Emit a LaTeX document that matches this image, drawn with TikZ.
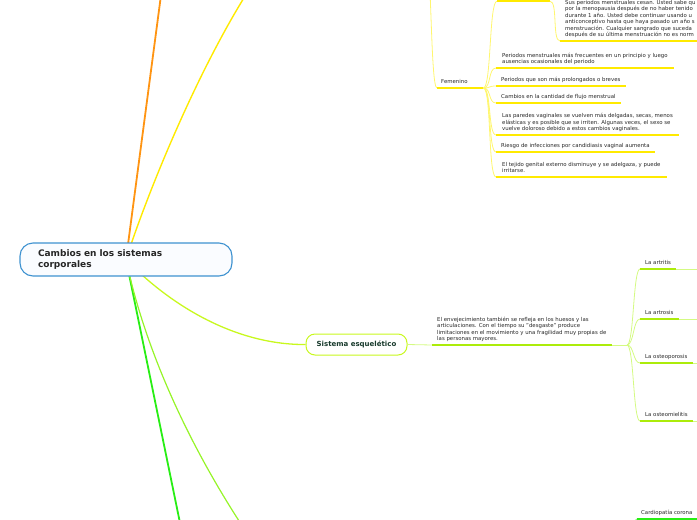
\documentclass[tikz,border=0pt]{standalone}
\usepackage{fontspec}
\setmainfont{DejaVu Sans}
\usepackage{tikz}
\usetikzlibrary{backgrounds}
\definecolor{rootblue}{RGB}{62,146,208}
\definecolor{rootfill}{RGB}{250,252,255}
\definecolor{myorange}{RGB}{255,148,18}
\definecolor{myyellow}{RGB}{255,234,0}
\definecolor{paleyellow}{RGB}{255,246,110}
\definecolor{mylime}{RGB}{200,248,30}
\definecolor{palelime}{RGB}{212,250,130}
\definecolor{darklime}{RGB}{172,236,10}
\definecolor{mygreen}{RGB}{40,238,20}
\definecolor{mygreenb}{RGB}{150,244,40}
\definecolor{ink}{RGB}{40,40,40}
\definecolor{topicink}{RGB}{24,58,44}

\begin{document}
\begin{tikzpicture}[x=1pt,y=-1pt,
  leaf/.style={anchor=south west, font=\fontsize{5.4}{6.5}\selectfont, text=ink,
    align=left, inner xsep=5pt, inner ysep=2.4pt, text depth=1.5pt},
  ulyellow/.style={myyellow, line width=1.5pt},
  ullime/.style={darklime, line width=1.6pt},
  thinyellow/.style={paleyellow, line width=0.8pt},
  thinlime/.style={palelime, line width=0.8pt}]
  \useasboundingbox (0,0) rectangle (697,520);
  \clip (0,0) rectangle (697,520);
  \coordinate (rim) at (700,0);

  \node[draw=rootblue, fill=rootfill, line width=1.1pt, rounded corners=13pt,
    minimum width=212pt, minimum height=33pt, text width=176pt, inner xsep=18pt,
    inner ysep=0pt, align=left, font=\fontsize{9}{11}\selectfont\bfseries, text=black!85]
    (root) at (126,259.5) {Cambios en los sistemas\\corporales};

  \node[draw=mylime, fill=white, line width=1pt, rounded corners=9pt,
    minimum width=101pt, minimum height=21pt,
    font=\fontsize{7}{8}\selectfont\bfseries, text=topicink]
    (esq) at (356.5,344.5) {Sistema esquelético};

  \coordinate (toporange) at (163,-20);
  \coordinate (topyellow) at (262,-30);
  \coordinate (botgreen) at (183.5,540);
  \coordinate (botgreenb) at (255,545);
  \begin{scope}[on background layer]
    \draw[myorange, line width=1.8pt] (root.center) -- (toporange);
    \draw[myyellow, line width=1.4pt] (root.center) .. controls (145,200) and (200,60) .. (topyellow);
    \draw[mylime, line width=1.3pt] (root.center) .. controls (175,310) and (240,345) .. (esq.west);
    \draw[mygreen, line width=1.8pt] (root.center) -- (botgreen);
    \draw[mygreenb, line width=1.2pt] (root.center) .. controls (145,350) and (190,450) .. (botgreenb);
  \end{scope}

  % esqueletico
  \node[leaf] (desc) at (432,345) {El envejecimiento también se refleja en los huesos y las\\
    articulaciones. Con el tiempo su "desgaste" produce\\
    limitaciones en el movimiento y una fragilidad muy propias de\\
    las personas mayores.};
  \draw[thinlime] (esq.east) -- (desc.south west);
  \draw[ullime] (desc.south west) -- (desc.south east);
  \coordinate (fork) at (627,345);
  \draw[thinlime] (desc.south east) -- (fork);
  \node[leaf] (artritis) at (640,269) {La artritis};
  \node[leaf] (artrosis) at (640,319) {La artrosis};
  \node[leaf] (osteop) at (640,363) {La osteoporosis};
  \node[leaf] (osteom) at (640,421) {La osteomielitis};
  \foreach \n in {artritis,artrosis,osteop,osteom}{
    \draw[thinlime] (fork) .. controls +(7,0) and +(-7,0) .. (\n.south west);
    \draw[ullime] (\n.south west) -- (\n.south east);
    \draw[thinlime] (\n.south east) -- (\n.south east -| rim);
  }

  % femenino
  \coordinate (reproin) at (424,-60);
  \node[leaf, inner xsep=4pt, text width=38pt] (fem) at (437,88) {Femenino};
  \draw[thinyellow] (reproin) .. controls (432,-60) and (430,88) .. (fem.south west);
  \draw[ulyellow] (fem.south west) -- (fem.south east);
  \coordinate (hidW) at (497,1.2);
  \coordinate (hidE) at (550,1.2);
  \draw[ulyellow] (hidW) -- (hidE);
  \draw[thinyellow] (fem.south east) .. controls +(8,0) and +(-8,0) .. (hidW);
  \node[leaf] (cesan) at (560,41) {Sus periodos menstruales cesan. Usted sabe qu\\
    por la menopausia después de no haber tenido\\
    durante 1 año. Usted debe continuar usando u\\
    anticonceptivo hasta que haya pasado un año s\\
    menstruación. Cualquier sangrado que suceda\\
    después de su última menstruación no es norm};
  \draw[thinyellow] (hidE) .. controls +(8,0) and +(-8,0) .. (cesan.south west);
  \draw[ulyellow] (cesan.south west) -- (cesan.south west -| rim);

  \node[leaf, inner xsep=6pt] (f1) at (496,68) {Periodos menstruales más frecuentes en un principio y luego\\
    ausencias ocasionales del periodo};
  \node[leaf] (f2) at (496,86) {Periodos que son más prolongados o breves};
  \node[leaf] (f3) at (496,103) {Cambios en la cantidad de flujo menstrual};
  \node[leaf, inner xsep=6pt] (f4) at (496,135) {Las paredes vaginales se vuelven más delgadas, secas, menos\\
    elásticas y es posible que se irriten. Algunas veces, el sexo se\\
    vuelve doloroso debido a estos cambios vaginales.};
  \node[leaf] (f5) at (496,152) {Riesgo de infecciones por candidiasis vaginal aumenta};
  \node[leaf, inner xsep=6pt] (f6) at (496,177) {El tejido genital externo disminuye y se adelgaza, y puede\\
    irritarse.};
  \foreach \n in {f1,f2,f3,f4,f5,f6}{
    \draw[thinyellow] (fem.south east) .. controls +(8,0) and +(-8,0) .. (\n.south west);
    \draw[ulyellow] (\n.south west) -- (\n.south east);
  }

  % cardiopatia
  \coordinate (cardioin) at (630,540);
  \node[leaf, inner xsep=4pt] (cardio) at (637,519) {Cardiopatía corona};
  \draw[mygreen!60, line width=0.8pt] (cardioin) .. controls (634,540) and (633,519) .. (cardio.south west);
  \draw[mygreen, line width=1.6pt] (cardio.south west) -- (cardio.south west -| rim);
\end{tikzpicture}
\end{document}
